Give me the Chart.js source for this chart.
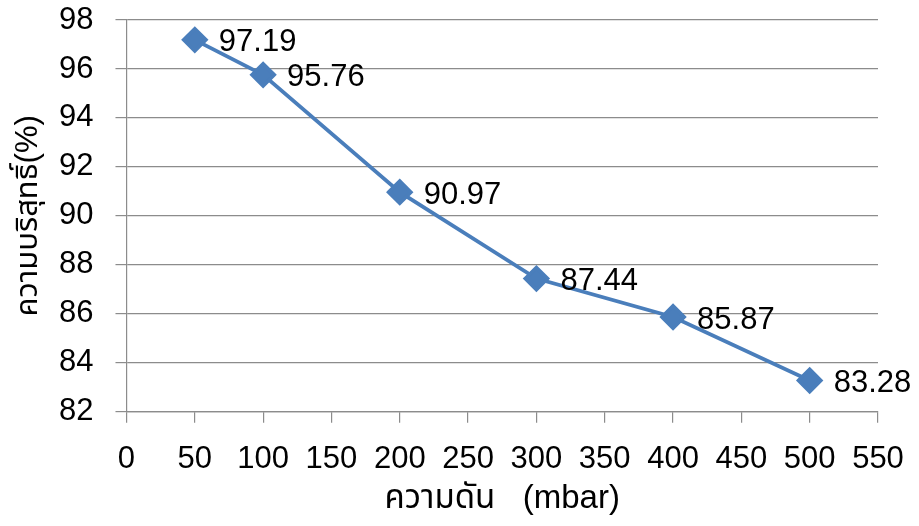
<!DOCTYPE html>
<html>
<head>
<meta charset="utf-8">
<script src="https://cdn.jsdelivr.net/npm/chart.js@4/dist/chart.umd.min.js"></script>
<style>
  html, body { margin: 0; padding: 0; background: #ffffff; }
  #wrap { width: 919px; height: 526px; }
</style>
</head>
<body>
<div id="wrap"><canvas id="c" width="919" height="526"></canvas></div>
<script>
// Pressure (mbar) vs purity (%)
const pressures = [50, 100, 200, 300, 400, 500];
const purity = [97.19, 95.76, 90.97, 87.44, 85.87, 83.28];
const xTitle = 'ความดัน   (mbar)';
const yTitle = 'ความบริสุทธิ์(%)';

const FONT = '"Liberation Sans", Arial, "Noto Sans", "Noto Sans Thai", sans-serif';
const BLUE = '#4A7EBB';
const GRID = '#8c8c8c';

// Value labels drawn to the right of each marker
const valueLabels = {
  id: 'valueLabels',
  afterDatasetsDraw(chart) {
    const ctx = chart.ctx;
    const meta = chart.getDatasetMeta(0);
    ctx.save();
    ctx.font = '31px ' + FONT;
    ctx.fillStyle = '#000000';
    ctx.textAlign = 'left';
    ctx.textBaseline = 'middle';
    meta.data.forEach((pt, i) => {
      const v = chart.data.datasets[0].data[i].y;
      ctx.fillText(v.toFixed(2), pt.x + 24, pt.y + 3);
    });
    ctx.restore();
  }
};

// Axis titles drawn relative to the chart area
const axisTitles = {
  id: 'axisTitles',
  afterDraw(chart) {
    const ctx = chart.ctx;
    const a = chart.chartArea;
    ctx.save();
    ctx.fillStyle = '#000000';
    ctx.font = '33px ' + FONT;
    ctx.textAlign = 'center';
    ctx.textBaseline = 'middle';
    ctx.fillText(xTitle, (a.left + a.right) / 2, a.bottom + 87);
    ctx.translate(a.left - 98, (a.top + a.bottom) / 2);
    ctx.rotate(-Math.PI / 2);
    ctx.font = '31px ' + FONT;
    ctx.fillText(yTitle, 0, 0);
    ctx.restore();
  }
};

new Chart(document.getElementById('c'), {
  type: 'line',
  data: {
    datasets: [{
      data: pressures.map((p, i) => ({ x: p, y: purity[i] })),
      borderColor: BLUE,
      backgroundColor: BLUE,
      borderWidth: 3.8,
      pointStyle: 'rectRot',
      pointRadius: 11,
      pointHoverRadius: 11,
      pointBackgroundColor: BLUE,
      pointBorderColor: BLUE,
      tension: 0,
      clip: false
    }]
  },
  options: {
    responsive: false,
    animation: false,
    devicePixelRatio: 1,
    layout: { autoPadding: false, padding: { top: 20, right: 41, bottom: 30, left: 37 } },
    plugins: { legend: { display: false }, tooltip: { enabled: false } },
    scales: {
      x: {
        type: 'linear',
        min: 0, max: 550,
        ticks: { stepSize: 50, color: '#000', font: { family: FONT, size: 31 }, padding: 18, maxRotation: 0, autoSkip: false },
        grid: { drawOnChartArea: false, color: GRID, tickLength: 11, lineWidth: 1.2 },
        border: { color: GRID, width: 1.2 },
        afterFit(scale) { scale.paddingLeft = 0; scale.paddingRight = 0; }
      },
      y: {
        min: 82, max: 98,
        ticks: { stepSize: 2, color: '#000', font: { family: FONT, size: 31 }, padding: 22 },
        grid: { color: GRID, tickLength: 11, lineWidth: 1.2 },
        border: { color: GRID, width: 1.2 },
        afterFit(scale) { scale.paddingTop = 0; scale.paddingBottom = 0; }
      }
    }
  },
  plugins: [valueLabels, axisTitles]
});
</script>
</body>
</html>
